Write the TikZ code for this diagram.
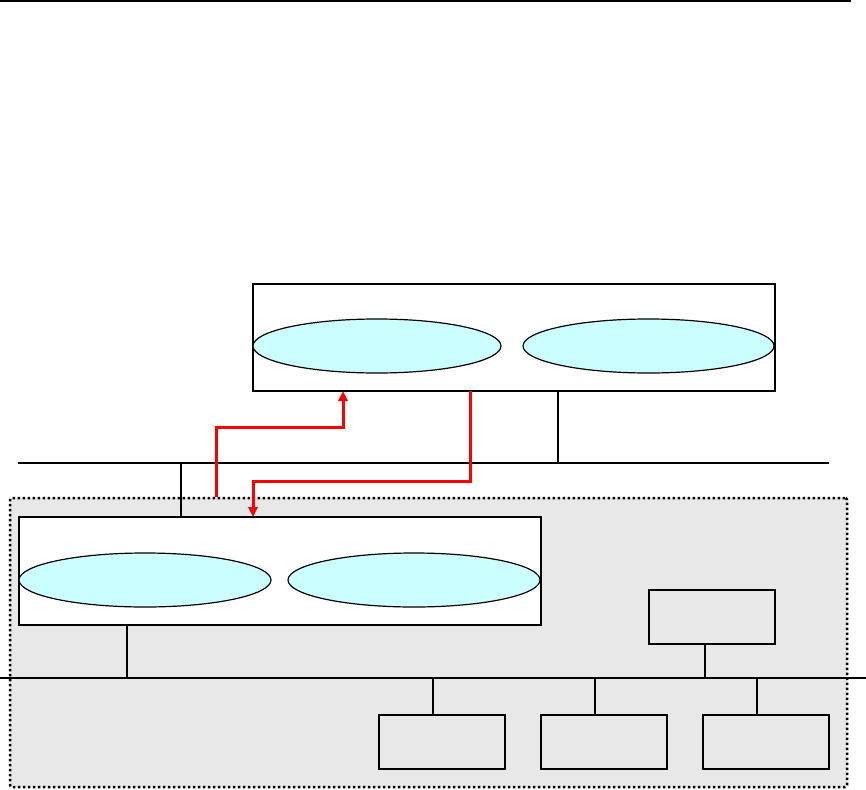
\documentclass[tikz,border=0pt]{standalone}
\usetikzlibrary{arrows.meta,shapes.geometric}
\definecolor{ellfill}{RGB}{204,255,255}
\definecolor{zonefill}{RGB}{232,232,232}
\begin{document}
\begin{tikzpicture}[x=1pt,y=-1pt,
  box/.style={draw=black,line width=1.2pt,fill=white,inner sep=0pt,outer sep=0pt},
  gbox/.style={draw=black,line width=1.2pt,fill=zonefill,inner sep=0pt,outer sep=0pt,minimum width=126pt,minimum height=54pt},
  ell/.style={draw=black,line width=1.2pt,fill=ellfill,ellipse,inner sep=0pt,outer sep=0pt},
  wire/.style={draw=black,line width=1.2pt},
  bus/.style={draw=black,line width=1.2pt},
  redflow/.style={draw=red,line width=3pt,-{Triangle[length=10pt,width=9pt]}}]
\useasboundingbox (0,0) rectangle (866,789);
% top rule
\draw[line width=2.2pt] (0,1) -- (851,1);
% shaded zone
\node[draw=black,fill=zonefill,line width=2.5pt,dash pattern=on 2.5pt off 2.5pt,rounded corners=2pt,
  inner sep=0pt,minimum width=837pt,minimum height=289pt] (zone) at (428.5,642.5) {};
% buses
\coordinate (b1w) at (18,463); \coordinate (b1e) at (829,463);
\coordinate (b2w) at (0,678); \coordinate (b2e) at (866,678);
\draw[bus] (b1w) -- (b1e);
\draw[bus] (b2w) -- (b2e);
% top box
\node[box,minimum width=522pt,minimum height=107pt] (topbox) at (514,337.5) {};
\node[ell,minimum width=248pt,minimum height=54pt] (te1) at (377,346) {};
\node[ell,minimum width=251pt,minimum height=54pt] (te2) at (648.5,346) {};
% lower box
\node[box,minimum width=522pt,minimum height=108pt] (lowbox) at (280,571) {};
\node[ell,minimum width=252pt,minimum height=54pt] (le1) at (145,580) {};
\node[ell,minimum width=252pt,minimum height=54pt] (le2) at (414,580) {};
% small boxes
\node[gbox] (rbox) at (712,617) {};
\node[gbox] (s1) at (442,742) {};
\node[gbox] (s2) at (604,742) {};
\node[gbox] (s3) at (766,742) {};
% connectors
\draw[wire] (topbox.south -| 558,0) -- (b1e -| 558,0);
\draw[wire] (b1w -| 181,0) -- (lowbox.north -| 181,0);
\draw[wire] (lowbox.south -| 127,0) -- (b2w -| 127,0);
\draw[wire] (rbox.south -| 705,0) -- (b2w -| 705,0);
\draw[wire] (b2w -| 433,0) -- (s1.north -| 433,0);
\draw[wire] (b2w -| 595,0) -- (s2.north -| 595,0);
\draw[wire] (b2w -| 757,0) -- (s3.north -| 757,0);
% red flows
\draw[redflow] (zone.north -| 216,0) -- (216,427) -- (343,427) -- (topbox.south -| 343,0);
\draw[redflow] (topbox.south -| 470,0) -- (470,481) -- (253,481) -- (lowbox.north -| 253,0);
\end{tikzpicture}
\end{document}
